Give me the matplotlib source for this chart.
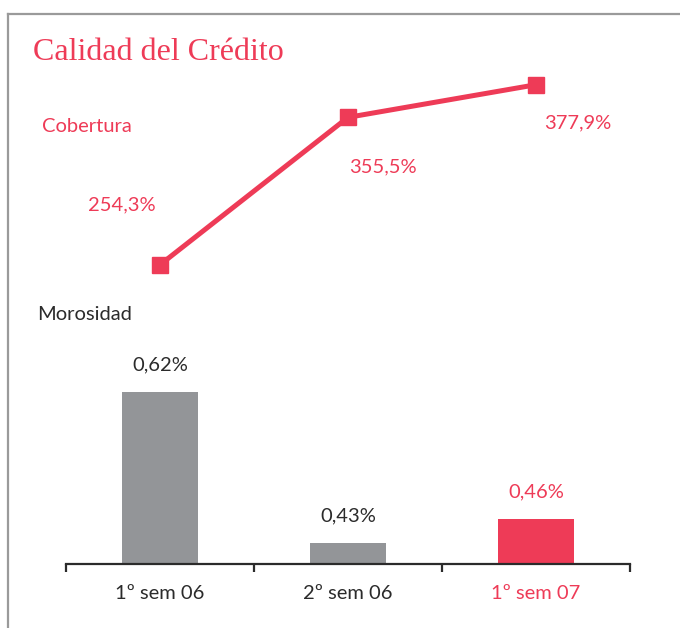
import matplotlib.pyplot as plt
from matplotlib.lines import Line2D

periodos = ['1º sem 06', '2º sem 06', '1º sem 07']
cobertura = [254.3, 355.5, 377.9]
morosidad = [0.62, 0.43, 0.46]

ROJO = '#EE3B57'
GRIS = '#939598'
TEXTO = '#2B2B2B'
W, H = 680, 628


def fx(px):
    return px / W


def fy(py):
    return 1 - py / H


fig = plt.figure(figsize=(6.8, 6.28), dpi=100)
fig.patch.set_facecolor('white')
sans = ['Lato', 'DejaVu Sans']
FS = 14.5

# marco
fig.add_artist(Line2D([fx(8), fx(8)], [0, fy(14)], color='#9a9a9a', lw=1.6))
fig.add_artist(Line2D([fx(8), 1], [fy(14), fy(14)], color='#9a9a9a', lw=1.6))

fig.text(fx(33), fy(52), 'Calidad del Crédito', color=ROJO, fontsize=23,
         family=['Liberation Serif', 'DejaVu Serif'], va='center', ha='left')
fig.text(fx(42), fy(126), 'Cobertura', color=ROJO, fontsize=FS,
         family=sans, va='center', ha='left')
fig.text(fx(37), fy(314), 'Morosidad', color=TEXTO, fontsize=FS,
         family=sans, va='center', ha='left')

x = list(range(len(periodos)))
left, width = fx(66), (630 - 66) / W

# linea de cobertura
ax_l = fig.add_axes([left, fy(290), width, (290 - 40) / H])
ax_l.plot(x, cobertura, color=ROJO, lw=3.6, marker='s', markersize=12,
          solid_capstyle='butt')
ax_l.set_xlim(-0.5, 2.5)
ax_l.set_ylim(237.0, 408.6)
ax_l.axis('off')
offsets = [(-38, 60), (35, -50), (42, -38)]
for xi, v, off in zip(x, cobertura, offsets):
    ax_l.annotate(f'{v:.1f}%'.replace('.', ','), (xi, v), xytext=off,
                  textcoords='offset pixels', ha='center', va='center',
                  color=ROJO, fontsize=FS, family=sans)

# barras de morosidad
ax_b = fig.add_axes([left, fy(564), width, (564 - 300) / H])
colores = [GRIS, GRIS, ROJO]
ax_b.bar(x, morosidad, width=0.4, color=colores, bottom=0)
ax_b.set_xlim(-0.5, 2.5)
ax_b.set_ylim(0.403, 0.736)
for s in ['top', 'right', 'left']:
    ax_b.spines[s].set_visible(False)
ax_b.spines['bottom'].set_linewidth(1.6)
ax_b.spines['bottom'].set_color(TEXTO)
ax_b.set_yticks([])
ax_b.set_xticks([-0.5, 0.5, 1.5, 2.5])
ax_b.set_xticklabels([])
ax_b.tick_params(axis='x', direction='out', length=6, width=1.6, color=TEXTO)
for xi, lab, c in zip(x, periodos, [TEXTO, TEXTO, ROJO]):
    ax_b.text(xi, -0.11, lab, transform=ax_b.get_xaxis_transform(),
              ha='center', va='center', color=c, fontsize=FS, family=sans)
for xi, v, c in zip(x, morosidad, [TEXTO, TEXTO, ROJO]):
    ax_b.annotate(f'{v:.2f}%'.replace('.', ','), (xi, v), xytext=(0, 27),
                  textcoords='offset pixels', ha='center', va='center',
                  color=c, fontsize=FS, family=sans)

fig.savefig('out.png', dpi=100)
